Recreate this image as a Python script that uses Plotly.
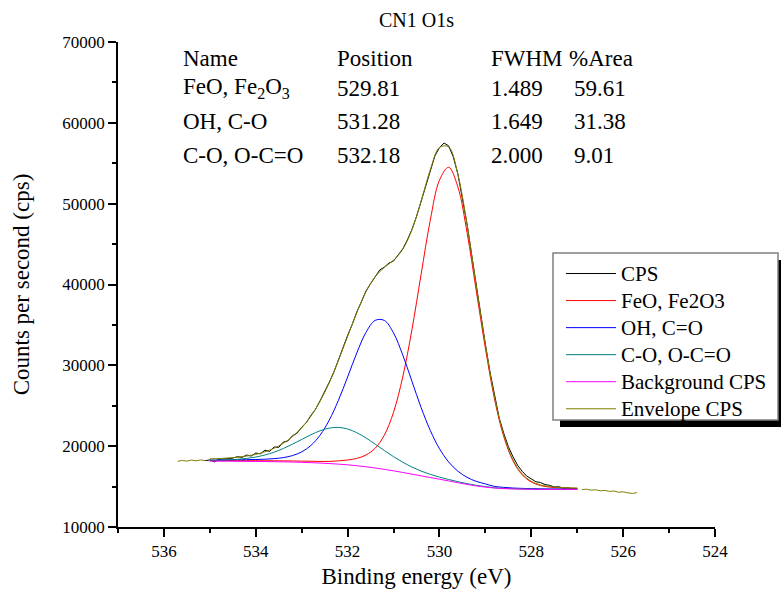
import plotly.graph_objects as go

# ---- Raw O1s spectrum (binding energy in eV, counts per second) ----
cps_energy = [
    535.7, 535.6, 535.5, 535.4, 535.3, 535.2, 535.1, 535.0, 534.9, 534.8,
    534.7, 534.6, 534.5, 534.4, 534.3, 534.2, 534.1, 534.0, 533.9, 533.8,
    533.7, 533.6, 533.5, 533.4, 533.3, 533.2, 533.1, 533.0, 532.9, 532.8,
    532.7, 532.6, 532.5, 532.4, 532.3, 532.2, 532.1, 532.0, 531.9, 531.8,
    531.7, 531.6, 531.5, 531.4, 531.3, 531.2, 531.1, 531.0, 530.9, 530.8,
    530.7, 530.6, 530.5, 530.4, 530.3, 530.2, 530.1, 530.0, 529.9, 529.8,
    529.7, 529.6, 529.5, 529.4, 529.3, 529.2, 529.1, 529.0, 528.9, 528.8,
    528.7, 528.6, 528.5, 528.4, 528.3, 528.2, 528.1, 528.0, 527.9, 527.8,
    527.7, 527.6, 527.5, 527.4, 527.3, 527.2, 527.1, 527.0, 526.9, 526.8,
    526.7, 526.6, 526.5, 526.4, 526.3, 526.2, 526.1, 526.0, 525.9, 525.8,
    525.7,
]
cps_counts = [
    18120, 18230, 18150, 18280, 18190, 18300, 18210, 18300, 18050, 18380,
    18420, 18470, 18520, 18700, 18610, 18900, 18780, 19150, 19050, 19500,
    19350, 19900, 19850, 20500, 20650, 21300, 21600, 22350, 22900, 23800,
    24550, 25600, 26700, 27900, 29150, 30700, 32100, 33700, 35050, 36600,
    37850, 39200, 40100, 41000, 41800, 42150, 42650, 42900, 43700, 44400,
    45500, 46800, 48400, 50300, 52300, 54200, 55900, 56950, 57500, 57150,
    55800, 53700, 50800, 47500, 43700, 39900, 36200, 32600, 29200, 26200,
    23500, 21600, 19950, 18700, 17650, 16900, 16300, 15950, 15600, 15500,
    15250, 15150, 14950, 14980, 14800, 14850, 14700, 14760, 14620, 14680,
    14560, 14600, 14480, 14530, 14400, 14450, 14300, 14360, 14220, 14150,
    14250,
]

# ---- Peak-fit region: components, Shirley background and envelope ----
fit_energy = [
    535.0, 534.8, 534.6, 534.4, 534.2, 534.0, 533.8, 533.6, 533.4, 533.2,
    533.0, 532.8, 532.6, 532.4, 532.2, 532.0, 531.8, 531.6, 531.4, 531.2,
    531.0, 530.8, 530.6, 530.4, 530.2, 530.0, 529.8, 529.6, 529.4, 529.2,
    529.0, 528.8, 528.6, 528.4, 528.2, 528.0, 527.8, 527.6, 527.4, 527.2,
    527.0,
]
background = [
    18150, 18145, 18140, 18130, 18120, 18110, 18095, 18080, 18060, 18035,
    18000, 17960, 17910, 17850, 17780, 17690, 17580, 17450, 17300, 17130,
    16950, 16750, 16540, 16330, 16120, 15910, 15700, 15480, 15270, 15080,
    14930, 14820, 14750, 14710, 14685, 14670, 14660, 14655, 14652, 14650,
    14650,
]
feo_fe2o3 = [
    18208, 18209, 18208, 18204, 18202, 18199, 18194, 18188, 18180, 18169,
    18150, 18130, 18110, 18110, 18180, 18290, 18480, 18909, 19744, 21363,
    24194, 28549, 34388, 41247, 47959, 52906, 54500, 52080, 46461, 39272,
    32118, 25805, 21187, 18196, 16467, 15562, 15130, 14934, 14849, 14797,
    14778,
]
oh_co = [
    18280, 18290, 18302, 18312, 18329, 18352, 18388, 18457, 18587, 18836,
    19293, 20086, 21357, 23218, 25677, 28557, 31535, 34074, 35562, 35552,
    34001, 31291, 28037, 24785, 21945, 19690, 18047, 16908, 16147, 15649,
    15329, 15020, 14900, 14820, 14775, 14745, 14722, 14707, 14697, 14690,
    14685,
]
co_ococ = [
    18242, 18265, 18306, 18372, 18482, 18656, 18909, 19260, 19709, 20246,
    20829, 21408, 21904, 22231, 22320, 22123, 21667, 21017, 20254, 19460,
    18704, 18015, 17418, 16922, 16514, 16172, 15878, 15607, 15366, 15157,
    14995, 14855, 14780, 14736, 14708, 14690, 14678, 14671, 14666, 14662,
    14661,
]
envelope = [
    18430, 18474, 18536, 18628, 18773, 18987, 19301, 19745, 20356, 21181,
    22272, 23704, 25551, 27859, 30617, 33590, 36522, 39100, 40960, 42115,
    42999, 44355, 46763, 50294, 54178, 56948, 57025, 53635, 47434, 39918,
    32582, 26040, 21367, 18332, 16580, 15657, 15210, 15002, 14908, 14849,
    14824,
]

# ---- Quantification table ----
table_header = ["Name", "Position", "FWHM", "%Area"]
peak_names = ["FeO, Fe<sub>2</sub>O<sub>3</sub>", "OH, C-O", "C-O, O-C=O"]
peak_positions = ["529.81", "531.28", "532.18"]
peak_fwhm = ["1.489", "1.649", "2.000"]
peak_area = ["59.61", "31.38", "9.01"]

legend_names = ["CPS", "FeO, Fe2O3", "OH, C=O", "C-O, O-C=O",
                "Background CPS", "Envelope CPS"]

FONT = "Liberation Serif"


def entry(name):
    # legend rows are spaced by the legend font; the label itself is drawn larger
    return '<span style="font-size:21px">' + name + "</span>"


fit_lo, fit_hi = min(fit_energy), max(fit_energy)

# measured counts inside the fitted window
cps_in_x = [e for e in cps_energy if fit_lo <= e <= fit_hi + 0.1]
cps_in_y = [c for e, c in zip(cps_energy, cps_counts) if fit_lo <= e <= fit_hi + 0.1]

# envelope trace: raw counts outside the window, fitted envelope inside
left_x = [e for e in cps_energy if e > fit_hi]
left_y = [c for e, c in zip(cps_energy, cps_counts) if e > fit_hi]
right_x = [e for e in cps_energy if e < fit_lo]
right_y = [c for e, c in zip(cps_energy, cps_counts) if e < fit_lo]

fig = go.Figure()

fig.add_trace(go.Scatter(x=cps_in_x, y=cps_in_y, mode="lines", name=entry(legend_names[0]),
                         line=dict(color="#000000", width=1)))
fig.add_trace(go.Scatter(x=fit_energy, y=feo_fe2o3, mode="lines", name=entry(legend_names[1]),
                         line=dict(color="#FF0000", width=1, shape="spline")))
fig.add_trace(go.Scatter(x=fit_energy, y=oh_co, mode="lines", name=entry(legend_names[2]),
                         line=dict(color="#0000FF", width=1, shape="spline")))
fig.add_trace(go.Scatter(x=fit_energy, y=co_ococ, mode="lines", name=entry(legend_names[3]),
                         line=dict(color="#008080", width=1, shape="spline")))
fig.add_trace(go.Scatter(x=fit_energy, y=background, mode="lines", name=entry(legend_names[4]),
                         line=dict(color="#FF00FF", width=1, shape="spline")))
fig.add_trace(go.Scatter(x=left_x, y=left_y, mode="lines", showlegend=False,
                         legendgroup="env", line=dict(color="#808000", width=1)))
fig.add_trace(go.Scatter(x=fit_energy, y=envelope, mode="lines", name=entry(legend_names[5]),
                         legendgroup="env",
                         line=dict(color="#808000", width=1, shape="spline")))
fig.add_trace(go.Scatter(x=right_x, y=right_y, mode="lines", showlegend=False,
                         legendgroup="env", line=dict(color="#808000", width=1)))

# table of fitted peak parameters
col_x = [0.106, 0.3635, 0.6214, 0.7513]
val_x = [0.106, 0.3635, 0.6214, 0.7597]
row_y = [0.967, 0.905, 0.836, 0.767]
annotations = []
for cx, txt in zip(col_x, table_header):
    annotations.append(dict(x=cx, y=row_y[0], text=txt))
for i in range(3):
    for cx, txt in zip(val_x, [peak_names[i], peak_positions[i], peak_fwhm[i], peak_area[i]]):
        annotations.append(dict(x=cx, y=row_y[i + 1], text=txt))
for a in annotations:
    a.update(xref="paper", yref="paper", xanchor="left", yanchor="middle",
             showarrow=False, font=dict(family=FONT, size=23, color="black"))

# legend frame with drop shadow (paper coords; plot spans 597 x 485 px)
W, H = 597.0, 485.0


def px(xp):
    return (xp - 118) / W


def py(yp):
    return (527 - yp) / H


shapes = [
    dict(type="rect", xref="paper", yref="paper", layer="above",
         x0=px(560), x1=px(790), y0=py(427), y1=py(260),
         fillcolor="black", line=dict(width=0)),
    dict(type="rect", xref="paper", yref="paper", layer="above",
         x0=px(553), x1=px(778), y0=py(420), y1=py(253),
         fillcolor="white", line=dict(color="#808080", width=1.5)),
]

fig.update_layout(
    width=781, height=597,
    margin=dict(l=118, r=66, t=42, b=70, autoexpand=False),
    paper_bgcolor="white", plot_bgcolor="white",
    font=dict(family=FONT, color="black"),
    title=dict(text="CN1 O1s", x=px(416.5), xref="paper", y=1 - 20 / 597,
               yref="container", xanchor="center", yanchor="middle",
               font=dict(family=FONT, size=20, color="black")),
    showlegend=True,
    legend=dict(x=px(561), y=py(255), xanchor="left", yanchor="top",
                bgcolor="rgba(0,0,0,0)", borderwidth=0,
                font=dict(family=FONT, size=18.5, color="black"),
                tracegroupgap=0, itemwidth=50),
    annotations=annotations,
    shapes=shapes,
)

fig.update_xaxes(
    range=[537, 524], tick0=524, dtick=2, showgrid=False, zeroline=False,
    showline=True, linecolor="black", linewidth=1.5, mirror=False,
    ticks="outside", ticklen=8, tickwidth=1.5, tickcolor="black",
    tickfont=dict(family=FONT, size=17, color="black"),
    minor=dict(dtick=1, ticks="outside", ticklen=4, tickwidth=1.5, tickcolor="black"),
    title=dict(text="Binding energy (eV)", standoff=8,
               font=dict(family=FONT, size=23, color="black")),
)
fig.update_yaxes(
    range=[10000, 70000], tick0=10000, dtick=10000, tickformat="d",
    showgrid=False, zeroline=False,
    showline=True, linecolor="black", linewidth=1.5, mirror=False,
    ticks="outside", ticklen=8, tickwidth=1.5, tickcolor="black",
    tickfont=dict(family=FONT, size=17, color="black"),
    minor=dict(dtick=5000, ticks="outside", ticklen=4, tickwidth=1.5, tickcolor="black"),
    title=dict(text="Counts per second (cps)", standoff=26,
               font=dict(family=FONT, size=23, color="black")),
)

fig.write_html("out.html")
